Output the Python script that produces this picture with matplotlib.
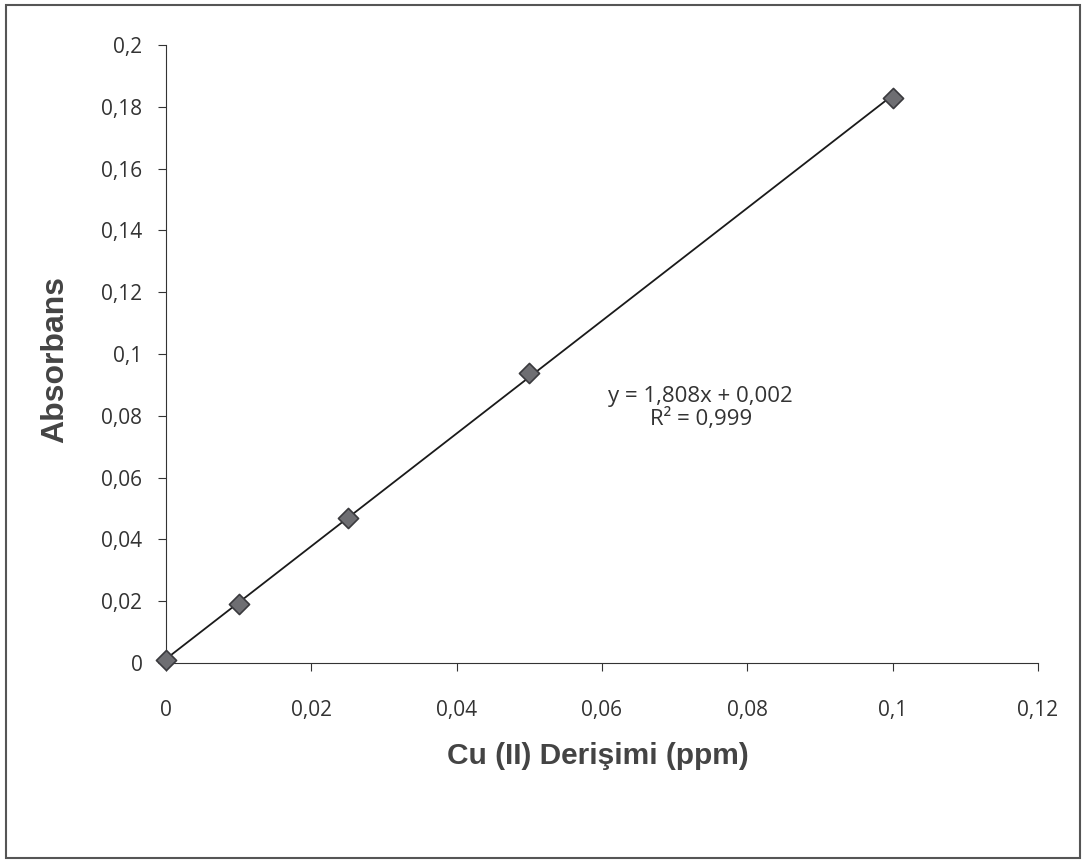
import numpy as np
import matplotlib.pyplot as plt
from matplotlib.ticker import FuncFormatter

konsantrasyon = [0, 0.01, 0.025, 0.05, 0.1]
absorbans = [0.001, 0.019, 0.047, 0.094, 0.183]
x_ticks = [0, 0.02, 0.04, 0.06, 0.08, 0.1, 0.12]
y_ticks = [0, 0.02, 0.04, 0.06, 0.08, 0.1, 0.12, 0.14, 0.16, 0.18, 0.2]

fig = plt.figure(figsize=(10.83, 8.61), dpi=100)
ax = fig.add_axes([0.1533, 0.230, 0.805, 0.7177])

# trend line
m, b = np.polyfit(konsantrasyon, absorbans, 1)
xs = np.array([0, 0.1])
ax.plot(xs, m * xs + b, color='#1a1a1a', lw=1.3, zorder=2)
ax.scatter(konsantrasyon, absorbans, marker='D', s=105, color='#6e6e72',
           edgecolors='#3a3a3e', linewidths=1.2, zorder=3, clip_on=False)

ax.set_xlim(0, 0.12)
ax.set_ylim(0, 0.2)
ax.set_xticks(x_ticks)
ax.set_yticks(y_ticks)

fmt = FuncFormatter(lambda v, p: ('%g' % round(v, 3)).replace('.', ','))
ax.xaxis.set_major_formatter(fmt)
ax.yaxis.set_major_formatter(fmt)

for s in ['top', 'right']:
    ax.spines[s].set_visible(False)
ax.spines['left'].set_color('#333333')
ax.spines['bottom'].set_color('#333333')
ax.tick_params(direction='out', length=6, color='#333333', labelsize=15,
               labelcolor='#333333')
ax.tick_params(axis='x', pad=21)
ax.tick_params(axis='y', pad=11)
for lab in ax.get_xticklabels() + ax.get_yticklabels():
    lab.set_fontfamily('Open Sans')

ax.set_xlabel('Cu (II) Derişimi (ppm)', fontsize=21.5, fontweight='bold',
              family='Liberation Sans', color='#444444')
ax.set_ylabel('Absorbans', fontsize=23, fontweight='bold',
              family='Liberation Sans', color='#444444')
ax.xaxis.set_label_coords((598 - 166) / 872, -(742 - 663) / 618)
ax.yaxis.set_label_coords(-(166 - 70) / 872, (663 - 360) / 618)

ax.text(0.0736, 0.0825, 'y = 1,808x + 0,002\nR² = 0,999', ha='center', va='center',
        fontsize=16, family='Open Sans', color='#333333', linespacing=1.1)

# outer frame
frame = plt.Rectangle((0.006, 0.004), 0.991, 0.99, transform=fig.transFigure,
                      fill=False, edgecolor='#555555', lw=1.5)
fig.patches.append(frame)

fig.savefig('out.png', dpi=100)
